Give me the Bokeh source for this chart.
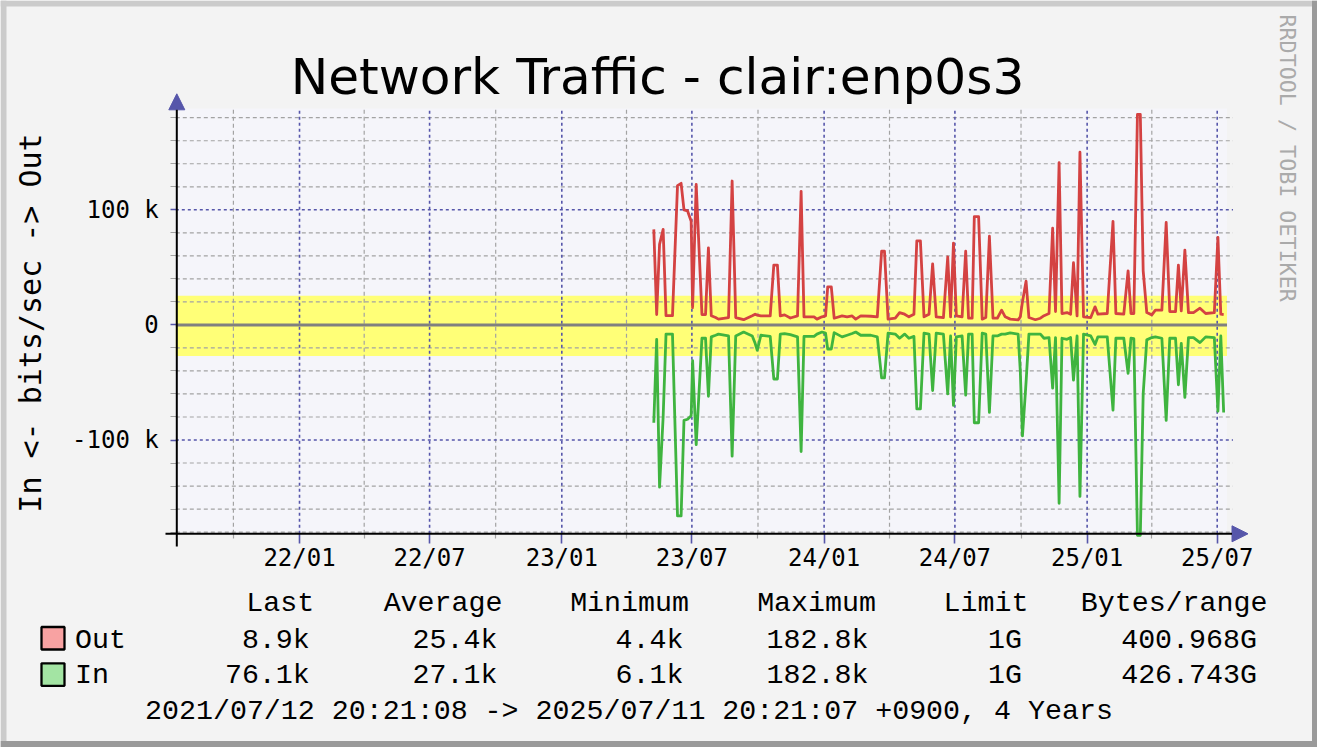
import pandas as pd
from math import pi
from bokeh.plotting import figure
from bokeh.models import (Range1d, FixedTicker, DatetimeTickFormatter, Label,
                          Arrow, NormalHead, BoxAnnotation)
from bokeh.embed import file_html
from bokeh.resources import INLINE

# ---------------- data ----------------
dates = [
    "2023-05-09", "2023-05-13", "2023-05-17", "2023-05-22", "2023-05-26", "2023-06-04", "2023-06-11", "2023-06-16", "2023-06-20", "2023-06-25",
    "2023-06-30", "2023-07-02", "2023-07-07", "2023-07-15", "2023-07-20", "2023-07-24", "2023-07-28", "2023-08-03", "2023-08-07", "2023-08-21",
    "2023-08-26", "2023-08-31", "2023-09-11", "2023-09-23", "2023-09-27", "2023-09-30", "2023-10-05", "2023-10-18", "2023-10-23", "2023-10-28",
    "2023-11-01", "2023-11-07", "2023-11-15", "2023-11-25", "2023-11-30", "2023-12-04", "2023-12-18", "2023-12-22", "2023-12-29", "2024-01-03",
    "2024-01-06", "2024-01-11", "2024-01-15", "2024-01-26", "2024-02-02", "2024-02-09", "2024-02-14", "2024-02-21", "2024-03-06", "2024-03-15",
    "2024-03-21", "2024-03-25", "2024-03-30", "2024-04-09", "2024-04-15", "2024-04-22", "2024-04-28", "2024-05-05", "2024-05-09", "2024-05-14",
    "2024-05-19", "2024-05-26", "2024-05-31", "2024-06-05", "2024-06-15", "2024-06-21", "2024-06-25", "2024-06-29", "2024-07-03", "2024-07-11",
    "2024-07-16", "2024-07-20", "2024-07-25", "2024-07-28", "2024-08-03", "2024-08-08", "2024-08-13", "2024-08-18", "2024-08-23", "2024-08-29",
    "2024-09-04", "2024-09-09", "2024-09-16", "2024-09-27", "2024-09-30", "2024-10-03", "2024-10-08", "2024-10-12", "2024-10-21", "2024-10-28",
    "2024-11-02", "2024-11-09", "2024-11-14", "2024-11-18", "2024-11-23", "2024-11-27", "2024-12-04", "2024-12-09", "2024-12-13", "2024-12-18",
    "2024-12-22", "2024-12-27", "2025-01-06", "2025-01-12", "2025-01-16", "2025-01-29", "2025-02-06", "2025-02-10", "2025-02-21", "2025-02-27",
    "2025-03-03", "2025-03-07", "2025-03-12", "2025-03-16", "2025-03-20", "2025-03-25", "2025-04-01", "2025-04-06", "2025-04-15", "2025-04-21",
    "2025-04-26", "2025-05-04", "2025-05-08", "2025-05-12", "2025-05-17", "2025-05-22", "2025-05-29", "2025-06-07", "2025-06-15", "2025-06-27",
    "2025-07-02", "2025-07-06", "2025-07-10",
]
out_kbps = [
    83, 9, 70, 83, 8, 8, 121, 123, 100, 99,
    90, 15, 122, 9, 9, 67, 8, 6.4, 5, 6.4,
    125, 6.4, 4.5, 8, 9.3, 8.5, 7.8, 7.8, 52, 52,
    7.8, 8.7, 6, 7.8, 116, 7, 7, 5, 7, 7.8,
    33, 33, 5.8, 7.8, 7, 7.8, 5, 7.8, 7.5, 7,
    64, 64, 5, 5.8, 10.7, 9.3, 7, 9.3, 73, 73,
    7, 9.3, 53, 7, 6.4, 59, 7, 71, 7.8, 7,
    64, 5.8, 5.8, 94, 94, 5, 6.4, 77, 5.8, 5.8,
    12.8, 7, 5, 4.4, 7, 20, 38, 6.4, 4.5, 5.8,
    8, 9.9, 84, 11.6, 141, 9.9, 10.7, 9.3, 54, 7.8,
    150, 7, 6.4, 15.7, 9.3, 9.9, 90, 9.9, 9.3, 47,
    9.9, 9.9, 182.8, 182.8, 47, 10.7, 8.7, 12.8, 12.8, 89,
    11.6, 11.6, 52, 12.2, 65, 10.7, 10.7, 14.5, 9.9, 10.7,
    76, 9.3, 8.9,
]
in_kbps = [
    85, 12.5, 141, 80, 8, 8, 166, 166, 83, 82,
    79, 31, 104, 11.6, 11.6, 62, 10.4, 9, 8, 9.6,
    114, 9.6, 6.2, 9.6, 16, 22, 9, 10, 47, 47,
    8, 7.5, 8.5, 10.4, 110, 10, 10, 8, 6.2, 7.2,
    21, 21, 6.7, 10.4, 9, 7.5, 6.2, 9, 9, 10.4,
    46, 46, 7.2, 8, 11.6, 8, 11.6, 10, 73, 73,
    7.2, 8, 57, 7.2, 8, 60, 9.6, 70, 10.4, 9.6,
    61, 8, 8, 85, 85, 7.2, 8, 76, 9.6, 9.6,
    8, 8, 7, 8, 40, 96.5, 50, 8, 8, 8,
    11.6, 11, 55, 11, 155, 11.6, 12.5, 11, 48, 9.6,
    149, 8, 9.6, 17, 10.4, 10.4, 74, 11.6, 11.6, 42,
    11.6, 12, 182.8, 182.8, 60, 13, 11, 10.4, 11.6, 83,
    11.6, 11.6, 52, 16, 63, 11, 11, 15.4, 10.4, 11,
    75, 9.6, 76.1,
]

t_start = "2021-07-12 20:21:08"
t_end = "2025-07-11 20:21:07"
x_major_ticks = ["2022-01-01", "2022-07-01", "2023-01-01", "2023-07-01",
                 "2024-01-01", "2024-07-01", "2025-01-01", "2025-07-01"]
x_minor_ticks = ["2021-10-01", "2022-04-01", "2022-10-01", "2023-04-01",
                 "2023-10-01", "2024-04-01", "2024-10-01", "2025-04-01"]
y_major_ticks = [-100, 0, 100]
y_tick_labels = ["-100 k", "0", "100 k"]
y_minor_ticks = [-180, -160, -140, -120, -80, -60, -40, -20, 20, 40, 60, 80, 120, 140, 160, 180]

title_text = "Network Traffic - clair:enp0s3"
y_label_text = "In <- bits/sec -> Out"
watermark = "RRDTOOL / TOBI OETIKER"
stat_headers = ["Last", "Average", "Minimum", "Maximum", "Limit", "Bytes/range"]
series_names = ["Out", "In"]
out_stats = ["8.9k", "25.4k", "4.4k", "182.8k", "1G", "400.968G"]
in_stats = ["76.1k", "27.1k", "6.1k", "182.8k", "1G", "426.743G"]
out_avg_k = 25.4
in_avg_k = 27.1
period_text = "2021/07/12 20:21:08 -> 2025/07/11 20:21:07 +0900, 4 Years"

# ---------------- styling / layout ----------------
BG = "#F3F3F3"
CANVAS = "#F5F5FA"
BLUE = "#5656AA"
GRID = "#A3A3A3"
RED = "#D44242"
GREEN = "#3FB43F"
OUT_SWATCH = "#F8A2A2"
IN_SWATCH = "#A3E4A3"
MONO = "DejaVu Sans Mono"
LEG = "Liberation Mono"
LEG_SIZE = 28.3

W, H = 1317, 747
PX_T0, PX_T1 = 175.3, 1224.5        # pixel columns of the start / end time
PX_ZERO, PX_PER_K = 324.4, 1.151    # pixel row of 0 and pixels per kbit/s
PX_TOP, PX_AXIS = 108.0, 533.3      # top of graph area, x axis row

t0 = pd.Timestamp(t_start).value / 1e6
t1 = pd.Timestamp(t_end).value / 1e6
mpp = (t1 - t0) / (PX_T1 - PX_T0)
y_top = (PX_ZERO - PX_TOP) / PX_PER_K
y_bot = -(PX_AXIS - PX_ZERO) / PX_PER_K
t_right = t1 + 2 * mpp

def ms(s):
    return pd.Timestamp(s).value / 1e6

p = figure(width=W, height=H, output_backend="svg", toolbar_location=None,
           x_axis_type="datetime",
           x_range=Range1d(t0 - PX_T0 * mpp, t1 + (W - PX_T1) * mpp),
           y_range=Range1d(-(H - PX_ZERO) / PX_PER_K, PX_ZERO / PX_PER_K),
           min_border=0, min_border_left=0, min_border_right=0, min_border_top=0, min_border_bottom=0,
           background_fill_color=BG, border_fill_color=BG, outline_line_color=None)
p.title.visible = False
p.xgrid.visible = False
p.ygrid.visible = False

# graph canvas and average band
p.quad(left=[t0], right=[t_right], bottom=[y_bot], top=[y_top],
       fill_color=CANVAS, line_color=None, level="image")
p.quad(left=[t0], right=[t_right], bottom=[-in_avg_k], top=[out_avg_k],
       fill_color="#FFFF77", line_color=None, level="image")

# grid lines
xmin = [ms(d) for d in x_minor_ticks]
xmaj = [ms(d) for d in x_major_ticks]
p.segment(x0=xmin, x1=xmin, y0=[y_bot] * len(xmin), y1=[y_top] * len(xmin),
          line_color=GRID, line_dash="4 3", line_width=1.2, level="underlay")
p.segment(x0=t0, x1=t1 + 8 * mpp, y0=y_minor_ticks, y1=y_minor_ticks,
          line_color=GRID, line_dash="4 3", line_width=1.2, level="underlay")
p.segment(x0=xmaj, x1=xmaj, y0=[y_bot] * len(xmaj), y1=[y_top] * len(xmaj),
          line_color=BLUE, line_dash="3 3", line_width=1.6, level="underlay")
ymaj = [v for v in y_major_ticks if v != 0]
p.segment(x0=t0, x1=t1 + 8 * mpp, y0=ymaj, y1=ymaj,
          line_color=BLUE, line_dash="3 3", line_width=1.6, level="underlay")

# zero line and traffic
p.line([t0, t_right], [0, 0], line_color="#808080", line_width=3)
xd = pd.to_datetime(dates)
p.line(xd, out_kbps, line_color=RED, line_width=2.8, line_join="round")
p.line(xd, [-v for v in in_kbps], line_color=GREEN, line_width=2.8, line_join="round")

# axes (fixed in place, library tick labels)
xa = p.xaxis[0]
xa.fixed_location = y_bot
xa.ticker = FixedTicker(ticks=xmaj, minor_ticks=xmin)
fmt = "%y/%m"
xa.formatter = DatetimeTickFormatter(microseconds=fmt, milliseconds=fmt, seconds=fmt, minsec=fmt,
                                     minutes=fmt, hourmin=fmt, hours=fmt, days=fmt, months=fmt, years=fmt)
xa.axis_line_color = None
xa.major_tick_line_color = BLUE
xa.major_tick_line_width = 1.6
xa.major_tick_out = 10
xa.major_tick_in = 0
xa.minor_tick_line_color = GRID
xa.minor_tick_line_width = 1.2
xa.minor_tick_out = 5
xa.minor_tick_in = 0
xa.major_label_text_font = MONO
xa.major_label_text_font_size = "24px"
xa.major_label_text_color = "black"
xa.major_label_standoff = 0

ya = p.yaxis[0]
ya.fixed_location = t0 + 1.0 * mpp
ya.ticker = FixedTicker(ticks=y_major_ticks, minor_ticks=y_minor_ticks)
ya.major_label_overrides = {t: l for t, l in zip(y_major_ticks, y_tick_labels)}
ya.axis_line_color = None
ya.major_tick_line_color = BLUE
ya.major_tick_line_width = 1.6
ya.major_tick_out = 6
ya.major_tick_in = 0
ya.minor_tick_line_color = GRID
ya.minor_tick_line_width = 1.2
ya.minor_tick_out = 6
ya.minor_tick_in = 0
ya.major_label_text_font = MONO
ya.major_label_text_font_size = "24px"
ya.major_label_text_color = "black"
ya.major_label_standoff = 12

# axis lines with arrow heads
p.add_layout(Arrow(x_start=176.3, y_start=546, x_end=176.3, y_end=93.3,
                   start_units="canvas", end_units="canvas", line_color="black", line_width=2,
                   end=NormalHead(size=16, fill_color=BLUE, line_color=BLUE)))
p.add_layout(Arrow(x_start=165, y_start=PX_AXIS, x_end=1247.5, y_end=PX_AXIS,
                   start_units="canvas", end_units="canvas", line_color="black", line_width=2,
                   end=NormalHead(size=16, fill_color=BLUE, line_color=BLUE)))

def label(x, y, text, size, font=LEG, align="left", baseline="middle", color="black", angle=0.0):
    p.add_layout(Label(x=x, y=y, x_units="canvas", y_units="canvas", text=text,
                       text_font=font, text_font_size=f"{size}px", text_align=align,
                       text_baseline=baseline, text_color=color, angle=angle))

def box(l, r, t, b, color, line=None, lw=0):
    p.add_layout(BoxAnnotation(left=l, right=r, top=t, bottom=b,
                               left_units="canvas", right_units="canvas", top_units="canvas",
                               bottom_units="canvas", fill_color=color, fill_alpha=1,
                               line_color=line, line_width=lw, line_alpha=1))

label(657, 76, title_text, 50.2, font="DejaVu Sans", align="center")
label(30, 322.5, y_label_text, 30, font=MONO, align="center", angle=pi / 2)
label(1286.7, 14, watermark, 21.7, font=MONO, color="#AAAAAA", angle=-pi / 2)

header_right = [313.7, 502, 688.5, 875.5, 1028, 1267]
value_right = [309.3, 497, 683, 868, 1021.5, 1256.5]
row_mid = [602.5, 639, 674.5, 710]       # header, Out, In, period
swatch_top = [626.5, 662.8]
for txt, xr in zip(stat_headers, header_right):
    label(xr, row_mid[0], txt, LEG_SIZE, align="right")
for name, stats, ym, st, sw in zip(series_names, [out_stats, in_stats], row_mid[1:3], swatch_top,
                                   [OUT_SWATCH, IN_SWATCH]):
    label(74.5, ym, name, LEG_SIZE)
    for txt, xr in zip(stats, value_right):
        label(xr, ym, txt, LEG_SIZE, align="right")
    box(41, 64, st, st + 22.5, sw, "black", 2.3)
label(144.5, row_mid[3], period_text, LEG_SIZE)

# 3-D frame of the image
box(0, W, 0, 6, "#CBCBCB")
box(0, 6, 0, H, "#CBCBCB")
box(W - 5.5, W, 0, H, "#9A9A9A")
box(0, W, H - 6.5, H, "#9A9A9A")

open("out.html", "w").write(file_html(p, INLINE))
